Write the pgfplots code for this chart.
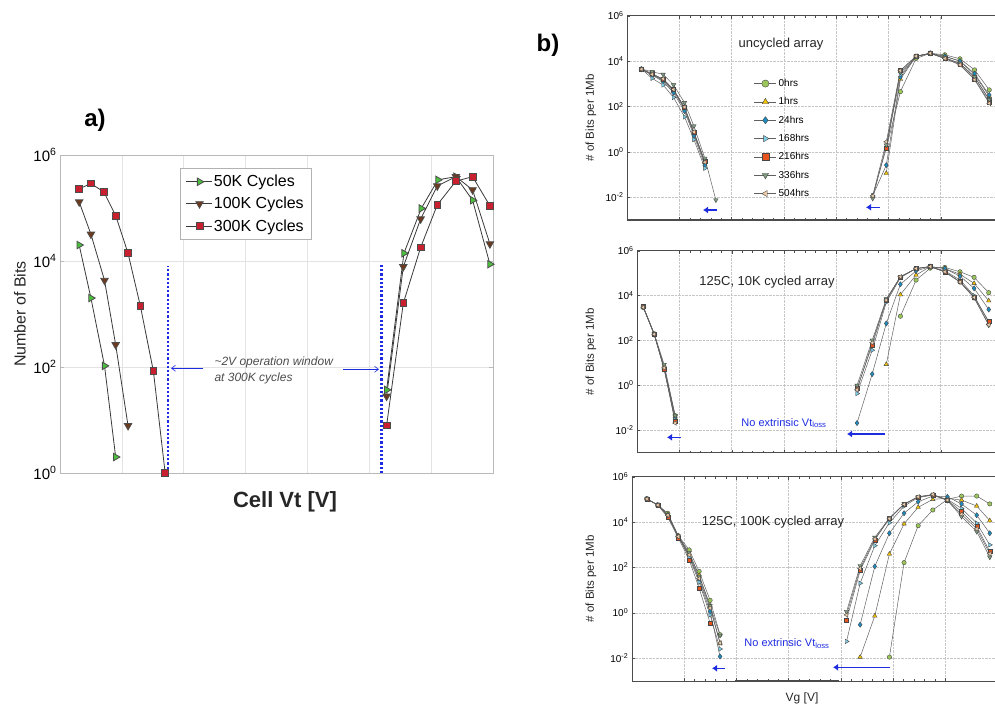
\documentclass[border=0pt]{standalone}
\usepackage{pgfplots}
\pgfplotsset{compat=1.18}
\usepackage{fontspec}
\setmainfont{Liberation Sans}
\usetikzlibrary{arrows.meta}

\definecolor{cA}{HTML}{4DBF3F}
\definecolor{cB}{HTML}{6E3A1E}
\definecolor{cC}{HTML}{C8202E}
\definecolor{c0}{HTML}{9BC75A}
\definecolor{c1}{HTML}{F2C200}
\definecolor{c2}{HTML}{1B8DC4}
\definecolor{c3}{HTML}{7ECFE8}
\definecolor{c4}{HTML}{E8541E}
\definecolor{c5}{HTML}{7E9C80}
\definecolor{c6}{HTML}{EBCBAA}
\definecolor{arr}{HTML}{1E2CE0}

\tikzset{
  h0/.style={gray!75!black, line width=0.5pt, mark=*, mark size=2.2pt, mark options={solid, draw=gray!55!black, line width=0.4pt, fill=c0}},
  h1/.style={gray!75!black, line width=0.5pt, mark=triangle*, mark size=2.6pt, mark options={solid, draw=gray!55!black, line width=0.4pt, fill=c1}},
  h2/.style={gray!75!black, line width=0.5pt, mark=diamond*, mark size=2.6pt, mark options={solid, draw=gray!55!black, line width=0.4pt, fill=c2}},
  h3/.style={gray!75!black, line width=0.5pt, mark=triangle*, mark size=2.6pt, mark options={solid, draw=gray!55!black, line width=0.4pt, fill=c3, rotate=-90}},
  h4/.style={gray!75!black, line width=0.5pt, mark=square*, mark size=2pt, mark options={solid, draw=gray!55!black, line width=0.4pt, fill=c4}},
  h5/.style={gray!75!black, line width=0.5pt, mark=triangle*, mark size=2.6pt, mark options={solid, draw=gray!55!black, line width=0.4pt, fill=c5, rotate=180}},
  h6/.style={gray!75!black, line width=0.5pt, mark=triangle*, mark size=2.6pt, mark options={solid, draw=gray!55!black, line width=0.4pt, fill=c6, rotate=90}},
}

\begin{document}
\begin{tikzpicture}[x=1pt,y=1pt]
\useasboundingbox (0,0) rectangle (995,709);

% ---------------- panel a ----------------
\begin{axis}[at={(60pt,236pt)}, anchor=south west, scale only axis,
  width=433pt, height=318pt,
  xmin=0, xmax=7, ymode=log, ymin=1, ymax=1e6,
  xtick={1,...,6}, xticklabels={}, major x tick style={draw=none},
  ytick={1,1e2,1e4,1e6},
  yticklabels={10\textsuperscript{0},10\textsuperscript{2},10\textsuperscript{4},10\textsuperscript{6}},
  grid=major, major grid style={gray!22, line width=0.6pt},
  axis line style={gray!55}, tick style={gray!55}, tick align=inside,
  y tick label style={font=\fontsize{15}{18}\selectfont},
  unbounded coords=jump, clip=false,
  legend style={at={(0.277,0.959)}, anchor=north west, draw=gray!60, fill=white,
    font=\fontsize{16}{19}\selectfont, row sep=5pt, inner sep=5pt},
  legend cell align=left,
  legend image code/.code={\draw[mark repeat=2,mark phase=2] plot coordinates {(0pt,0pt) (14pt,0pt) (26pt,0pt)};},
]
\addplot[gray!45!black, line width=0.8pt, mark=triangle*, mark size=4.3pt,
  mark options={solid, fill=cA, draw=gray!60!black, rotate=-90}] coordinates {
  (0.31,2.0e4) (0.50,2.0e3) (0.72,105) (0.90,2.0) (3,nan)
  (5.28,37) (5.56,1.4e4) (5.84,9.8e4) (6.11,3.4e5) (6.40,3.9e5) (6.67,1.4e5) (6.95,8.7e3)};
\addplot[gray!45!black, line width=0.8pt, mark=triangle*, mark size=4.3pt,
  mark options={solid, fill=cB, draw=gray!60!black, rotate=180}] coordinates {
  (0.31,1.3e5) (0.50,3.2e4) (0.72,4.3e3) (0.90,263) (1.10,7.8) (3,nan)
  (5.28,28) (5.55,7.8e3) (5.83,6.2e4) (6.10,2.6e5) (6.40,3.9e5) (6.67,2.2e5) (6.95,2.1e4)};
\addplot[gray!45!black, line width=0.8pt, mark=square*, mark size=3.4pt,
  mark options={solid, fill=cC, draw=gray!60!black}] coordinates {
  (0.31,2.3e5) (0.50,2.9e5) (0.71,2.0e5) (0.90,7.2e4) (1.10,1.4e4) (1.30,1.4e3) (1.51,83) (1.70,1)
  (3,nan)
  (5.28,7.9) (5.55,1.6e3) (5.83,1.8e4) (6.10,1.15e5) (6.40,3.2e5) (6.67,3.9e5) (6.95,1.1e5)};
\legend{50K Cycles,100K Cycles,300K Cycles}
\draw[arr, line width=2.4pt, dash pattern=on 2.2pt off 2pt] (axis cs:1.75,1) -- (axis cs:1.75,8e3);
\draw[arr, line width=2.4pt, dash pattern=on 2.2pt off 2pt] (axis cs:5.20,1) -- (axis cs:5.20,9e3);
\end{axis}

\node[font=\fontsize{24}{28}\selectfont\bfseries] at (95,589) {a)};
\node[font=\fontsize{22}{26}\selectfont\bfseries, text=black!85] at (285,207) {Cell Vt [V]};
\node[font=\fontsize{16}{19}\selectfont, rotate=90, text=black!85] at (20,395) {Number of Bits};
\node[font=\fontsize{12}{16}\selectfont\itshape, text=black!70, anchor=west, align=left] at (211,339)
  {\textasciitilde 2V operation window\\at 300K cycles};
\draw[arr, line width=0.6pt, -{Straight Barb[length=4pt,width=6pt]}] (203,340.7) -- (171,340.7);
\draw[arr, line width=0.6pt, -{Straight Barb[length=4pt,width=6pt]}] (343,339.7) -- (379,339.7);

% ---------------- panel b, top ----------------
\begin{axis}[at={(627pt,489pt)}, anchor=south west, scale only axis,
  width=368pt, height=204.3pt, xmin=0, xmax=7.04,
  ymode=log, ymin=1e-3, ymax=1e6,
  ytick={1e-2,1,1e2,1e4,1e6},
  yticklabels={10\textsuperscript{-2},10\textsuperscript{0},10\textsuperscript{2},10\textsuperscript{4},10\textsuperscript{6}},
  xtick={1,...,6}, xticklabels={}, minor x tick num=4,
  grid=major, major grid style={densely dotted, gray!45},
  axis x line*=box, axis y line*=left,
  axis line style={gray!60!black}, tick style={gray!60!black},
  tick align=inside, major tick length=3pt, minor tick length=2pt,
  y tick label style={font=\fontsize{10}{12}\selectfont},
  unbounded coords=jump, clip=false,
  legend style={at={(0.345,0.70)}, anchor=north west, draw=none, fill=none,
    font=\fontsize{10}{12}\selectfont, row sep=5.6pt, inner sep=0pt},
  legend cell align=left,
  legend image code/.code={\draw[mark repeat=2,mark phase=2] plot coordinates {(0pt,0pt) (11pt,0pt) (22pt,0pt)};},
  legend image post style={mark size=3.6pt},
]
\addplot[h0] coordinates {(0.28,4400)(0.48,2600)(0.69,1500)(0.89,500)(1.10,83)(1.28,6.6)(1.49,0.32)(3,nan)
  (4.96,1.45)(5.23,450)(5.53,13000)(5.80,22000)(6.08,19000)(6.37,12600)(6.65,4100)(6.93,540)};
\addplot[h1] coordinates {(0.28,4400)(0.48,2500)(0.69,1400)(0.89,480)(1.10,79)(1.28,6.3)(1.49,0.35)(3,nan)
  (4.96,0.115)(5.23,1600)(5.53,16000)(5.80,22000)(6.08,16600)(6.37,10000)(6.65,2500)(6.93,280)};
\addplot[h2] coordinates {(0.28,4400)(0.48,2400)(0.69,1260)(0.89,400)(1.10,63)(1.28,5.2)(1.49,0.25)(3,nan)
  (4.70,0.0115)(4.96,0.26)(5.23,2000)(5.53,16000)(5.80,22000)(6.08,16000)(6.37,10000)(6.65,2800)(6.93,320)};
\addplot[h3] coordinates {(0.28,4400)(0.48,1740)(0.69,890)(0.89,250)(1.10,35)(1.28,3.5)(1.49,0.19)(3,nan)
  (4.70,0.0115)(4.96,1.45)(5.23,2500)(5.53,16000)(5.80,22000)(6.08,14000)(6.37,7900)(6.65,2000)(6.93,200)};
\addplot[h4] coordinates {(0.28,4400)(0.48,2800)(0.69,1600)(0.89,560)(1.10,89)(1.28,7.1)(1.49,0.40)(3,nan)
  (4.96,1.45)(5.23,3800)(5.53,16600)(5.80,22000)(6.08,13000)(6.37,7100)(6.65,1600)(6.93,160)};
\addplot[h5] coordinates {(0.28,4400)(0.48,3400)(0.69,2600)(0.89,890)(1.10,148)(1.28,13.8)(1.49,0.52)(1.70,0.0076)(3,nan)
  (4.70,0.0089)(4.96,2.0)(5.23,3200)(5.53,16000)(5.80,22000)(6.08,14000)(6.37,7900)(6.65,2000)(6.93,200)};
\addplot[h6] coordinates {(0.28,4400)(0.48,2600)(0.69,1660)(0.89,560)(1.10,95)(1.28,7.6)(1.49,0.35)(3,nan)
  (4.70,0.0115)(4.96,2.8)(5.23,3800)(5.53,16600)(5.80,22000)(6.08,13000)(6.37,6800)(6.65,1500)(6.93,138)};
\legend{0hrs,1hrs,24hrs,168hrs,216hrs,336hrs,504hrs}
\draw[gray!60!black, line width=1.4pt] (rel axis cs:0,0) -- (rel axis cs:1,0);
\end{axis}

% ---------------- panel b, middle ----------------
\begin{axis}[at={(637pt,256.3pt)}, anchor=south west, scale only axis,
  width=358pt, height=202pt, xmin=0.19, xmax=7.04,
  ymode=log, ymin=1e-3, ymax=1e6,
  ytick={1e-2,1,1e2,1e4,1e6},
  yticklabels={10\textsuperscript{-2},10\textsuperscript{0},10\textsuperscript{2},10\textsuperscript{4},10\textsuperscript{6}},
  xtick={1,...,6}, xticklabels={}, minor x tick num=4,
  grid=major, major grid style={densely dotted, gray!45},
  axis x line*=box, axis y line*=left,
  axis line style={gray!60!black}, tick style={gray!60!black},
  tick align=inside, major tick length=3pt, minor tick length=2pt,
  y tick label style={font=\fontsize{10}{12}\selectfont},
  unbounded coords=jump, clip=false,
]
\addplot[h0] coordinates {(0.31,3200)(0.52,190)(0.71,6.5)(0.92,0.045)(3,nan)
  (5.23,1200)(5.53,49000)(5.80,166000)(6.08,180000)(6.37,115000)(6.64,65000)(6.92,13500)};
\addplot[h1] coordinates {(0.31,3100)(0.52,190)(0.71,6.0)(0.92,0.04)(3,nan)
  (4.96,8.7)(5.23,11000)(5.53,83000)(5.80,195000)(6.08,160000)(6.37,89000)(6.64,35000)(6.92,5900)};
\addplot[h2] coordinates {(0.31,3000)(0.52,185)(0.71,5.5)(0.92,0.035)(3,nan)
  (4.40,0.021)(4.69,3.2)(4.96,575)(5.23,32000)(5.53,126000)(5.80,195000)(6.08,160000)(6.37,74000)(6.64,21000)(6.92,2400)};
\addplot[h3] coordinates {(0.31,3000)(0.52,180)(0.71,5.2)(0.92,0.03)(3,nan)
  (4.40,0.43)(4.69,37)(4.96,5000)(5.23,63000)(5.53,160000)(5.80,195000)(6.08,126000)(6.37,50000)(6.64,10000)(6.92,630)};
\addplot[h4] coordinates {(0.31,3200)(0.52,190)(0.71,5.1)(0.92,0.025)(3,nan)
  (4.40,0.72)(4.69,62)(4.96,6300)(5.23,69000)(5.53,160000)(5.80,195000)(6.08,115000)(6.37,42000)(6.64,8900)(6.92,720)};
\addplot[h5] coordinates {(0.31,3100)(0.52,200)(0.71,8.5)(0.92,0.045)(3,nan)
  (4.40,1.0)(4.69,102)(4.96,7100)(5.23,69000)(5.53,160000)(5.80,195000)(6.08,115000)(6.37,40000)(6.64,7900)(6.92,480)};
\addplot[h6] coordinates {(0.31,3000)(0.52,190)(0.71,6.0)(0.92,0.021)(3,nan)
  (4.40,0.63)(4.69,79)(4.96,6300)(5.23,69000)(5.53,160000)(5.80,195000)(6.08,115000)(6.37,40000)(6.64,8300)(6.92,500)};
\draw[gray!60!black, line width=1.4pt] (rel axis cs:0,0) -- (rel axis cs:1,0);
\end{axis}

% ---------------- panel b, bottom ----------------
\begin{axis}[at={(631.7pt,28.3pt)}, anchor=south west, scale only axis,
  width=363.3pt, height=204pt, xmin=0, xmax=6.95,
  ymode=log, ymin=1e-3, ymax=1e6,
  ytick={1e-2,1,1e2,1e4,1e6},
  yticklabels={10\textsuperscript{-2},10\textsuperscript{0},10\textsuperscript{2},10\textsuperscript{4},10\textsuperscript{6}},
  xtick={1,...,6}, xticklabels={}, minor x tick num=4,
  grid=major, major grid style={densely dotted, gray!45},
  axis x line*=box, axis y line*=left,
  axis line style={gray!60!black}, tick style={gray!60!black},
  tick align=inside, major tick length=3pt, minor tick length=2pt,
  y tick label style={font=\fontsize{10}{12}\selectfont},
  unbounded coords=jump, clip=false,
]
\addplot[h0] coordinates {(0.29,105000)(0.50,56000)(0.69,24500)(0.89,2500)(1.10,590)(1.29,66)(1.50,3.5)(1.69,0.107)(3,nan)
  (4.93,0.011)(5.21,162)(5.48,6900)(5.76,34000)(6.04,100000)(6.31,140000)(6.60,140000)(6.85,63000)};
\addplot[h1] coordinates {(0.29,105000)(0.50,56000)(0.69,22000)(0.89,2400)(1.10,400)(1.29,45)(1.50,2.0)(1.69,0.046)(3,nan)
  (4.37,0.011)(4.65,0.72)(4.93,390)(5.21,8300)(5.48,45000)(5.76,100000)(6.04,112000)(6.31,93000)(6.60,51000)(6.85,11500)};
\addplot[h2] coordinates {(0.29,105000)(0.50,56000)(0.69,20000)(0.89,2300)(1.10,316)(1.29,28)(1.50,1.12)(1.69,0.0117)(3,nan)
  (4.37,0.295)(4.65,110)(4.93,3200)(5.21,24500)(5.48,79000)(5.76,140000)(6.04,130000)(6.31,63000)(6.60,20000)(6.85,3200)};
\addplot[h3] coordinates {(0.29,105000)(0.50,56000)(0.69,18000)(0.89,2300)(1.10,280)(1.29,22)(1.50,0.8)(1.69,0.025)(3,nan)
  (4.11,0.054)(4.37,20)(4.65,910)(4.93,9300)(5.21,50000)(5.48,120000)(5.76,155000)(6.04,100000)(6.31,40000)(6.60,8900)(6.85,980)};
\addplot[h4] coordinates {(0.29,105000)(0.50,56000)(0.69,16000)(0.89,2000)(1.10,214)(1.29,12)(1.50,0.35)(3,nan)
  (4.11,0.49)(4.37,72)(4.65,1600)(4.93,15000)(5.21,60000)(5.48,130000)(5.76,155000)(6.04,93000)(6.31,29000)(6.60,6300)(6.85,500)};
\addplot[h5] coordinates {(0.29,105000)(0.50,56000)(0.69,20000)(0.89,2400)(1.10,450)(1.29,40)(1.50,2.0)(1.69,0.1)(3,nan)
  (4.11,1.12)(4.37,117)(4.65,2100)(4.93,15000)(5.21,63000)(5.48,130000)(5.76,155000)(6.04,89000)(6.31,17400)(6.60,3800)(6.85,280)};
\addplot[h6] coordinates {(0.29,105000)(0.50,56000)(0.69,20000)(0.89,2300)(1.10,355)(1.29,32)(1.50,1.6)(1.69,0.046)(3,nan)
  (4.11,0.8)(4.37,89)(4.65,1800)(4.93,14000)(5.21,60000)(5.48,130000)(5.76,166000)(6.04,93000)(6.31,22000)(6.60,5000)(6.85,400)};
\end{axis}

% ---------------- panel b annotations ----------------
\node[font=\fontsize{24}{28}\selectfont\bfseries] at (548,664) {b)};
\node[font=\fontsize{11.5}{14}\selectfont, rotate=90, text=black!85] at (591,591) {\# of Bits per 1Mb};
\node[font=\fontsize{11.5}{14}\selectfont, rotate=90, text=black!85] at (591,357.3) {\# of Bits per 1Mb};
\node[font=\fontsize{11.5}{14}\selectfont, rotate=90, text=black!85] at (591,130.3) {\# of Bits per 1Mb};
\node[font=\fontsize{13}{16}\selectfont, text=black!85] at (781,665) {uncycled array};
\node[font=\fontsize{13}{16}\selectfont, text=black!85] at (767,427) {125C, 10K cycled array};
\node[font=\fontsize{13}{16}\selectfont, text=black!85] at (773,187) {125C, 100K cycled array};
\node[font=\fontsize{11}{14}\selectfont, text=arr] at (784,286) {No extrinsic Vt\textsubscript{loss}};
\node[font=\fontsize{11}{14}\selectfont, text=arr] at (787,65.7) {No extrinsic Vt\textsubscript{loss}};
\node[font=\fontsize{12}{14}\selectfont, text=black!85] at (802,11) {Vg [V]};
\draw[gray!60!black, line width=1.6pt] (735,28.3) -- (839,28.3);
\draw[arr, line width=1.4pt, -{Latex[length=5pt,width=7pt]}] (717,499) -- (703,499);
\draw[arr, line width=1.4pt, -{Latex[length=5pt,width=7pt]}] (880,501.7) -- (866,501.7);
\draw[arr, line width=1.4pt, -{Latex[length=5pt,width=7pt]}] (681,271.7) -- (667,271.7);
\draw[arr, line width=1.4pt, -{Latex[length=5pt,width=7pt]}] (885,275) -- (847,275);
\draw[arr, line width=1.4pt, -{Latex[length=5pt,width=7pt]}] (725,40.7) -- (712,40.7);
\draw[arr, line width=1.4pt, -{Latex[length=5pt,width=7pt]}] (890,41.7) -- (833,41.7);
\end{tikzpicture}
\end{document}
